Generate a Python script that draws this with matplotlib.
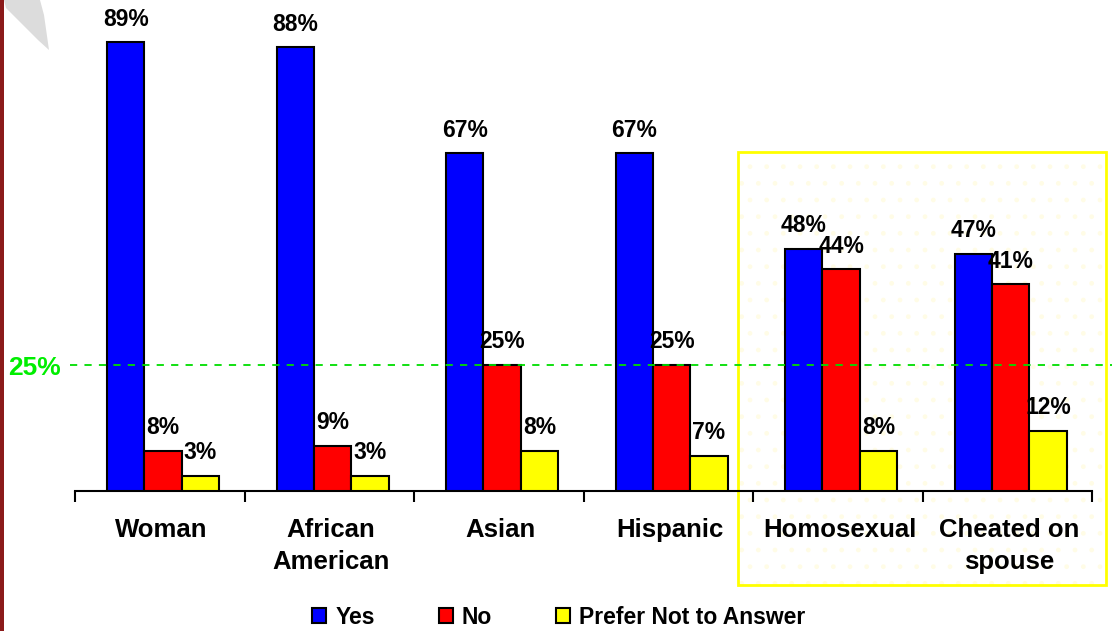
import matplotlib.pyplot as plt
from matplotlib.patches import Rectangle, Polygon
import numpy as np

plt.rcParams['font.family'] = ['Liberation Sans', 'DejaVu Sans']
plt.rcParams['font.weight'] = 'bold'

# data
categories = ['Woman', 'African\nAmerican', 'Asian', 'Hispanic', 'Homosexual', 'Cheated on\nspouse']
yes = [89, 88, 67, 67, 48, 47]
no = [8, 9, 25, 25, 44, 41]
prefer_not = [3, 3, 8, 7, 8, 12]
series_names = ['Yes', 'No', 'Prefer Not to Answer']
series_colors = ['#0000ff', '#ff0000', '#ffff00']
reference_level = 25

W, H = 1112, 631
fig = plt.figure(figsize=(W / 100, H / 100), dpi=100)

# highlight box around the last two groups (behind the axes)
box_x0, box_y0, box_x1, box_y1 = 738, 152, 1106, 585
fig.patches.append(Rectangle((box_x0 / W, 1 - box_y1 / H), (box_x1 - box_x0) / W,
                             (box_y1 - box_y0) / H, transform=fig.transFigure,
                             fill=False, hatch='.', edgecolor='#fffce6', linewidth=0,
                             zorder=-2))
fig.patches.append(Rectangle((box_x0 / W, 1 - box_y1 / H), (box_x1 - box_x0) / W,
                             (box_y1 - box_y0) / H, transform=fig.transFigure,
                             fill=False, edgecolor='#ffff00', linewidth=2, zorder=-1))

# decorative left border and swoosh
fig.patches.append(Rectangle((0, 0), 3.5 / W, 1, transform=fig.transFigure,
                             facecolor='#8b1a1a', edgecolor='none', zorder=-1))
swoosh = [(4, 0), (40, 0), (44, 15), (49, 50), (38, 40), (20, 22), (6, 8)]
fig.patches.append(Polygon([(px / W, 1 - py / H) for px, py in swoosh], closed=True,
                           transform=fig.transFigure, facecolor='#dcdcdc',
                           edgecolor='none', zorder=-1))

ax = fig.add_axes([75 / W, 140 / H, (1092 - 75) / W, 491 / H])
ax.patch.set_visible(False)

x = np.arange(len(categories))
bw = 0.22
offsets = [-0.2, 0.02, 0.24]
handles = []
for vals, off, col, name in zip([yes, no, prefer_not], offsets, series_colors, series_names):
    bars = ax.bar(x + off, vals, width=bw, color=col, edgecolor='black', linewidth=1.5,
                  label=name, zorder=3)
    handles.append(bars)
    for b, v in zip(bars, vals):
        ax.annotate(f'{v}%', (b.get_x() + b.get_width() / 2, v), xytext=(0, 12),
                    textcoords='offset points', ha='center', va='baseline',
                    fontsize=16.5, fontweight='bold', zorder=5)

ax.set_xlim(-0.5, len(categories) - 0.5)
ax.set_ylim(0, 97.4)
for s in ['top', 'right', 'left']:
    ax.spines[s].set_visible(False)
ax.spines['bottom'].set_linewidth(1.5)
ax.set_yticks([])
ax.set_xticks(np.arange(-0.5, len(categories)))
ax.set_xticklabels([])
ax.tick_params(axis='x', length=8, width=1.5, direction='out')
for i, c in enumerate(categories):
    ax.text(i + 0.01, -5.4, c, ha='center', va='top', fontsize=18.5, fontweight='bold',
            linespacing=1.4)

# 25% reference line
ax.plot([-0.5 - 5 / 169.5, len(categories) - 0.5 + 20 / 169.5], [reference_level] * 2,
        color='#00dd00', linestyle=(0, (4, 4)), linewidth=1.3, clip_on=False, zorder=4)
fig.text(8 / W, 1 - 368 / H, f'{reference_level}%', color='#00ee00', fontsize=19,
         fontweight='bold', ha='left', va='center')

fig.legend(handles, series_names, loc='center', bbox_to_anchor=(559 / W, 14 / H),
           ncol=3, frameon=False, handlelength=0.6, handleheight=0.6,
           handletextpad=0.4, columnspacing=2.8, prop={'weight': 'bold', 'size': 16.5})

fig.savefig('out.png', dpi=100)
